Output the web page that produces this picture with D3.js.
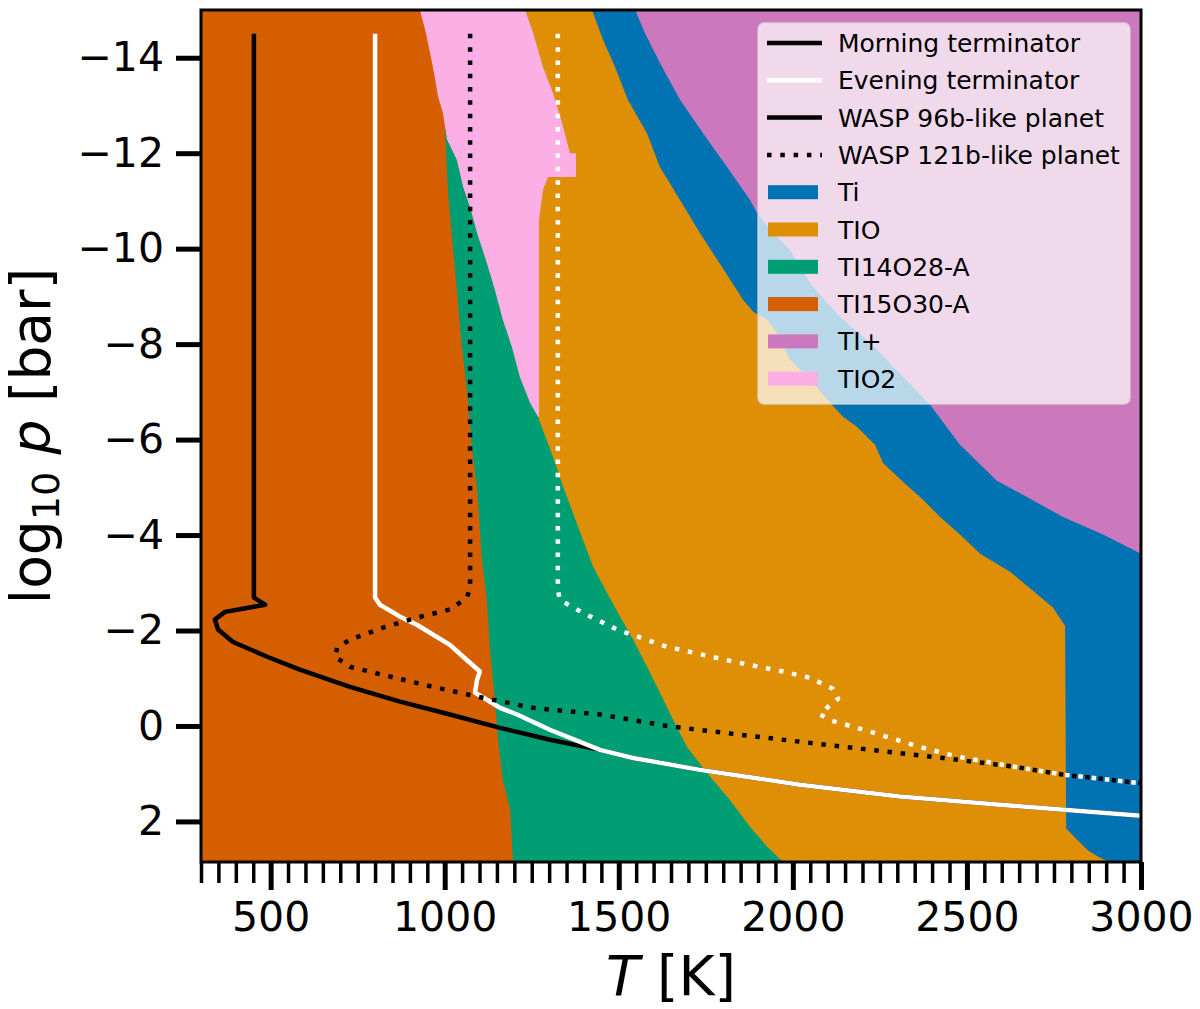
<!DOCTYPE html>
<html>
<head>
<meta charset="utf-8">
<script src="https://cdn.jsdelivr.net/npm/d3@7"></script>
<style>
  body { margin: 0; background: #fff; }
  svg { display: block; }
  text { font-family: "DejaVu Sans", sans-serif; fill: #000; }
</style>
</head>
<body>
<svg id="chart" width="1200" height="1009"></svg>
<script>
// Region boundaries, as [log10 p, T]
// right edge of TI15O30-A
const ti15Edge = [[-15.00, 929], [-14.52, 946], [-13.81, 966], [-13.18, 981], [-12.84, 995], [-12.55, 1001],
    [-11.23, 1009], [-10.23, 1021], [-9.14, 1035], [-8.09, 1047], [-7.04, 1064], [-5.85, 1078], [-4.95, 1093],
    [-3.48, 1107], [-2.64, 1121], [-1.60, 1130], [-0.55, 1144], [0.29, 1153], [1.13, 1167], [1.75, 1188], [2.85, 1196]];
// right edge of TI14O28-A
const ti14Edge = [[-12.55, 1001], [-12.28, 1007], [-11.86, 1035], [-11.29, 1053], [-10.87, 1073], [-10.33, 1093],
    [-9.70, 1121], [-9.14, 1144], [-8.51, 1167], [-7.94, 1193], [-7.31, 1216], [-6.77, 1245], [-6.48, 1268],
    [-6.20, 1282], [-5.64, 1311], [-5.01, 1340], [-4.47, 1368], [-3.90, 1397], [-3.34, 1426], [-2.79, 1466],
    [-2.29, 1504], [-1.81, 1541], [-1.24, 1581], [-0.70, 1618], [-0.13, 1656], [0.44, 1696], [0.98, 1753],
    [1.55, 1819], [2.11, 1877], [2.53, 1926], [2.85, 1972]];
// right edge of TIO2
const tio2Edge = [[-15.00, 1231], [-14.52, 1254], [-13.81, 1282], [-13.26, 1311], [-12.63, 1337], [-12.00, 1360],
    [-12.00, 1377], [-11.50, 1377], [-11.50, 1297], [-11.23, 1282], [-10.60, 1271], [-6.48, 1271]];
// right edge of TIO
const tioEdge = [[-15.00, 1423], [-14.37, 1455], [-13.81, 1489], [-13.12, 1526], [-12.42, 1581], [-11.71, 1618],
    [-11.02, 1676], [-10.33, 1733], [-9.62, 1796], [-8.93, 1857], [-8.68, 1886], [-8.51, 1926], [-8.24, 1954],
    [-7.67, 1992], [-7.19, 2058], [-6.77, 2107], [-6.48, 2144], [-6.27, 2184], [-5.89, 2236], [-5.51, 2259],
    [-5.14, 2313], [-4.76, 2371], [-4.38, 2423], [-4.01, 2480], [-3.61, 2538], [-3.23, 2624], [-2.85, 2687],
    [-2.48, 2747], [-2.10, 2782], [2.15, 2785], [2.38, 2816], [2.61, 2848], [2.76, 2882], [2.85, 2911]];
// right edge of Ti
const tiEdge = [[-15.00, 1547], [-14.52, 1575], [-13.81, 1624], [-13.12, 1676], [-12.42, 1742], [-11.71, 1811],
    [-11.02, 1877], [-10.75, 1897], [-10.33, 1943], [-9.97, 1992], [-9.28, 2049], [-8.57, 2135], [-8.03, 2222],
    [-6.73, 2394], [-5.89, 2480], [-5.14, 2586], [-4.38, 2776], [-4.01, 2891], [-3.61, 3000], [2.85, 3000]];

// Temperature profiles, [log10 p, T]
const morning96 = [[-14.5, 452], [-2.69, 452], [-2.54, 484], [-2.39, 369], [-2.23, 340], [-2.02, 349], [-1.76, 392],
    [-1.45, 490], [-1.18, 584], [-0.82, 728], [-0.51, 872], [-0.24, 1015], [0.04, 1159], [0.29, 1302], [0.50, 1446],
    [0.67, 1541], [0.92, 1733], [1.23, 2020], [1.48, 2307], [1.65, 2595], [1.88, 3000]];
const evening96 = [[-14.5, 800], [-2.69, 800], [-2.54, 814], [-2.29, 872], [-2.12, 920], [-1.70, 1015], [-1.45, 1053],
    [-1.14, 1101], [-0.97, 1093], [-0.70, 1087], [-0.55, 1121], [-0.38, 1159], [-0.24, 1208], [0.08, 1302],
    [0.50, 1446], [0.67, 1541], [0.92, 1733], [1.23, 2020], [1.48, 2307], [1.65, 2595], [1.88, 3000]];
const morning121 = [[-14.5, 1073], [-2.90, 1073], [-2.69, 1064], [-2.44, 1015], [-2.27, 920], [-2.06, 823],
    [-1.81, 728], [-1.64, 691], [-1.45, 685], [-1.24, 728], [-1.07, 823], [-0.82, 966], [-0.59, 1110], [-0.38, 1254],
    [-0.24, 1446], [0.00, 1638], [0.27, 1949], [0.48, 2201], [0.67, 2431], [0.85, 2632], [1.02, 2776], [1.20, 3000]];
const evening121 = [[-14.5, 1325], [-2.85, 1325], [-2.64, 1331], [-2.37, 1397], [-2.02, 1495], [-1.66, 1638],
    [-1.35, 1828], [-1.14, 1972], [-1.01, 2049], [-0.78, 2115], [-0.57, 2130], [-0.40, 2101], [-0.24, 2078],
    [-0.11, 2112], [0.12, 2222], [0.44, 2365], [0.64, 2471], [0.85, 2632], [1.02, 2776], [1.20, 3000]];

const species = ["Ti", "TIO", "TI14O28-A", "TI15O30-A", "TI+", "TIO2"];
const speciesColors = ["#0173b2", "#de8f05", "#029e73", "#d55e00", "#cc78bc", "#fbafe4"];

const xMajor = [500, 1000, 1500, 2000, 2500, 3000];
const xMinor = d3.range(300, 3000, 50).filter(t => t % 500 !== 0);
const yTicks = [-14, -12, -10, -8, -6, -4, -2, 0, 2];

const svg = d3.select("#chart");
const plotLeft = 201, plotRight = 1141, plotTop = 10, plotBottom = 862;

const x = d3.scaleLinear().domain([300, 3000]).range([plotLeft, plotRight]);
const y = d3.scaleLinear().domain([-15, 2.85]).range([plotTop, plotBottom]);
const color = d3.scaleOrdinal().domain(species).range(speciesColors);

svg.append("defs").append("clipPath").attr("id", "plot-clip")
    .append("rect")
    .attr("x", plotLeft).attr("y", plotTop)
    .attr("width", plotRight - plotLeft).attr("height", plotBottom - plotTop);

const plot = svg.append("g").attr("clip-path", "url(#plot-clip)");

// Dominant species map, drawn as layers from the hot side to the cold side
plot.append("rect")
    .attr("x", plotLeft).attr("y", plotTop)
    .attr("width", plotRight - plotLeft).attr("height", plotBottom - plotTop)
    .attr("fill", color("TI+"));

const edgeArea = d3.area()
    .y(d => y(d[0]))
    .x0(x(300))
    .x1(d => x(d[1]));

const layers = [
    { name: "Ti", edge: tiEdge },
    { name: "TIO", edge: tioEdge },
    { name: "TIO2", edge: tio2Edge },
    { name: "TI14O28-A", edge: ti14Edge },
    { name: "TI15O30-A", edge: ti15Edge }
];

plot.selectAll(".region")
    .data(layers)
    .enter()
    .append("path")
    .attr("class", "region")
    .attr("d", d => edgeArea(d.edge))
    .attr("fill", d => color(d.name));

// Profiles
const profileLine = d3.line()
    .x(d => x(d[1]))
    .y(d => y(d[0]));

const dotted = "4.5,8.8";
const profiles = [
    { data: morning96, stroke: "#000", dash: null },
    { data: evening96, stroke: "#fff", dash: null },
    { data: morning121, stroke: "#000", dash: dotted },
    { data: evening121, stroke: "#fff", dash: dotted }
];

plot.selectAll(".profile")
    .data(profiles)
    .enter()
    .append("path")
    .attr("class", "profile")
    .attr("d", d => profileLine(d.data))
    .attr("fill", "none")
    .attr("stroke", d => d.stroke)
    .attr("stroke-width", 4.5)
    .attr("stroke-linejoin", "round")
    .attr("stroke-dasharray", d => d.dash);

// Axes
const minus = d => d < 0 ? "\u2212" + Math.abs(d) : String(d);

const xAxis = svg.append("g")
    .attr("transform", `translate(0,${plotBottom})`)
    .call(d3.axisBottom(x).tickValues(xMajor).tickSize(28).tickPadding(12).tickFormat(d3.format("d")));
const xMinorAxis = svg.append("g")
    .attr("transform", `translate(0,${plotBottom})`)
    .call(d3.axisBottom(x).tickValues(xMinor).tickSize(21).tickFormat(""));
const yAxis = svg.append("g")
    .attr("transform", `translate(${plotLeft},0)`)
    .call(d3.axisLeft(y).tickValues(yTicks).tickSize(25).tickPadding(12).tickFormat(minus));

[xAxis, xMinorAxis, yAxis].forEach(g => {
    g.select(".domain").remove();
    g.selectAll("text")
        .attr("font-family", "'DejaVu Sans', sans-serif")
        .attr("font-size", 41)
        .attr("fill", "#000");
});
xAxis.selectAll("line").attr("stroke", "#000").attr("stroke-width", 5);
xMinorAxis.selectAll("line").attr("stroke", "#000").attr("stroke-width", 3.5);
yAxis.selectAll("line").attr("stroke", "#000").attr("stroke-width", 5);

// Frame
svg.append("rect")
    .attr("x", plotLeft).attr("y", plotTop)
    .attr("width", plotRight - plotLeft).attr("height", plotBottom - plotTop)
    .attr("fill", "none")
    .attr("stroke", "#000")
    .attr("stroke-width", 3);

// Axis labels
const xLabel = svg.append("text")
    .attr("x", (plotLeft + plotRight) / 2)
    .attr("y", 995)
    .attr("text-anchor", "middle")
    .attr("font-size", 55);
xLabel.append("tspan").attr("font-style", "italic").text("T");
xLabel.append("tspan").text(" [K]");

const yLabel = svg.append("text")
    .attr("transform", `translate(50,${(plotTop + plotBottom) / 2}) rotate(-90)`)
    .attr("text-anchor", "middle")
    .attr("font-size", 55);
yLabel.append("tspan").text("log");
yLabel.append("tspan").attr("font-size", 38).attr("dy", 9).text("10");
yLabel.append("tspan").attr("dy", -9).text(" ");
yLabel.append("tspan").attr("font-style", "italic").text("p");
yLabel.append("tspan").text(" [bar]");

// Legend
const legendLines = [
    { label: "Morning terminator", stroke: "#000", dash: null },
    { label: "Evening terminator", stroke: "#fff", dash: null },
    { label: "WASP 96b-like planet", stroke: "#000", dash: null },
    { label: "WASP 121b-like planet", stroke: "#000", dash: dotted }
];
const legendItems = legendLines.map(d => ({ ...d, type: "line" }))
    .concat(species.map(s => ({ label: s, type: "patch" })));

const legend = svg.append("g");
const lx = 758, ly = 23, rowStep = 37.3;

legend.append("rect")
    .attr("x", lx).attr("y", ly)
    .attr("width", 372).attr("height", 381)
    .attr("rx", 6).attr("ry", 6)
    .attr("fill", "#fff")
    .attr("fill-opacity", 0.72)
    .attr("stroke", "#d8d8d8")
    .attr("stroke-opacity", 0.8)
    .attr("stroke-width", 1.5);

const rows = legend.selectAll(".legend-row")
    .data(legendItems)
    .enter()
    .append("g")
    .attr("class", "legend-row")
    .attr("transform", (d, i) => `translate(0,${ly + 20 + i * rowStep})`);

rows.filter(d => d.type === "line")
    .append("line")
    .attr("x1", lx + 9).attr("x2", lx + 64)
    .attr("y1", 0).attr("y2", 0)
    .attr("stroke", d => d.stroke)
    .attr("stroke-width", 4.5)
    .attr("stroke-dasharray", d => d.dash);

rows.filter(d => d.type === "patch")
    .append("rect")
    .attr("x", lx + 10).attr("y", -7)
    .attr("width", 50).attr("height", 14)
    .attr("fill", d => color(d.label));

rows.append("text")
    .attr("x", lx + 80)
    .attr("y", 0)
    .attr("dy", "0.36em")
    .attr("font-size", 25)
    .attr("fill", "#222")
    .text(d => d.label);
</script>
</body>
</html>
